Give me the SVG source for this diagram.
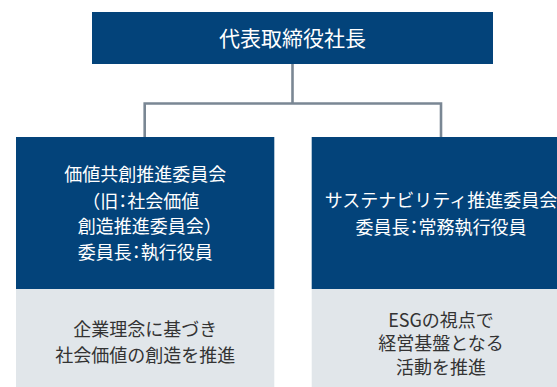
<svg xmlns="http://www.w3.org/2000/svg" width="557" height="387" viewBox="0 0 557 387">
<style>
text{font-family:"Noto Sans CJK JP","Noto Sans",sans-serif;text-anchor:middle}
.dark{fill:#03437a}
.light{fill:#e1e6ea}
.wt{fill:#ffffff;font-size:18px}
.bt{fill:#333333;font-size:18px}
.h{font-feature-settings:"halt"}
.conn{fill:none;stroke:#7a8794;stroke-width:2.6}
</style>
<rect width="557" height="387" fill="#ffffff"/>
<g id="connectors">
<path class="conn" d="M292.5 64 V103.5"/>
<path class="conn" d="M144.7 137 V103.5 H441 V137"/>
</g>
<g id="ceo">
<rect class="dark" x="92" y="12" width="401" height="52"/>
<text x="292.5" y="46.3" fill="#ffffff" font-size="21">代表取締役社長</text>
</g>
<g id="value-committee">
<rect class="dark" x="16" y="137" width="258.3" height="152"/>
<rect class="light" x="16" y="289" width="258.3" height="98"/>
<text class="wt" x="145.3" y="181">価値共創推進委員会</text>
<text class="wt h" x="145.3" y="207.5">（旧：社会価値</text>
<text class="wt h" x="145.3" y="233">創造推進委員会）</text>
<text class="wt h" x="145.3" y="258.5">委員長：執行役員</text>
<text class="bt" x="145.3" y="336">企業理念に基づき</text>
<text class="bt" x="145.3" y="361.5">社会価値の創造を推進</text>
</g>
<g id="sustainability-committee">
<rect class="dark" x="311.7" y="137" width="258.6" height="152"/>
<rect class="light" x="311.7" y="289" width="258.6" height="98"/>
<text class="wt" x="441" y="207">サステナビリティ推進委員会</text>
<text class="wt h" x="441" y="233.5">委員長：常務執行役員</text>
<text class="bt" x="441" y="326.5">ESGの視点で</text>
<text class="bt" x="441" y="350">経営基盤となる</text>
<text class="bt" x="441" y="373.5">活動を推進</text>
</g>
</svg>
